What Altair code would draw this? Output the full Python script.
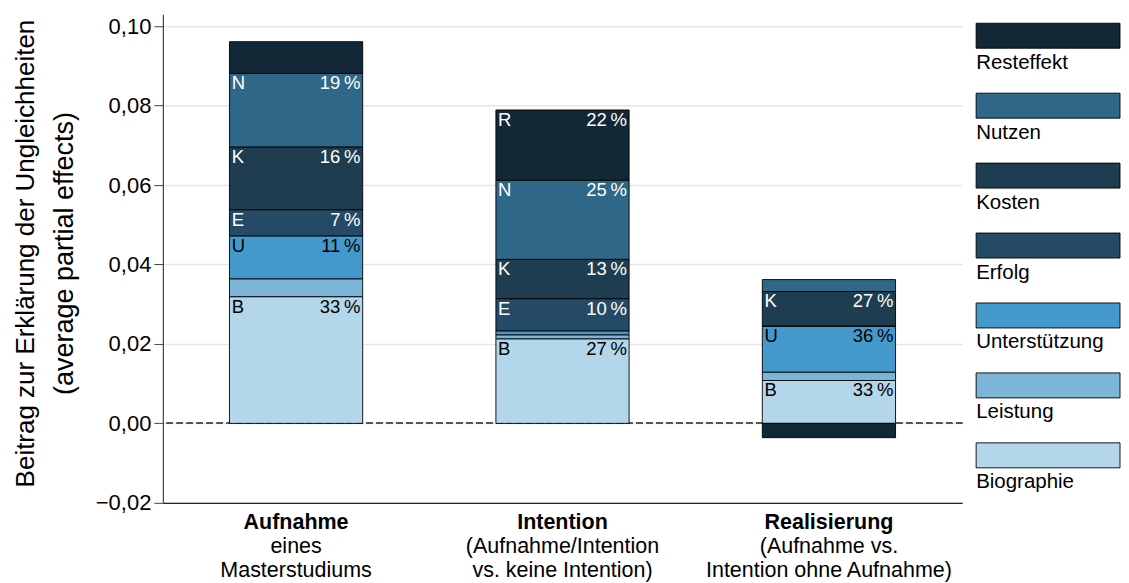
import altair as alt
import pandas as pd

groups = ["Aufnahme", "Intention", "Realisierung"]
group_subtitles = [
    "eines\nMasterstudiums",
    "(Aufnahme/Intention\nvs. keine Intention)",
    "(Aufnahme vs.\nIntention ohne Aufnahme)",
]
factors = ["Biographie", "Leistung", "Unterstützung", "Erfolg", "Kosten", "Nutzen", "Resteffekt"]
letters = ["B", "L", "U", "E", "K", "N", "R"]
colors = ["#b3d6ea", "#7db5d9", "#4499cc", "#244a66", "#1e3d51", "#2e6788", "#132836"]
text_colors = ["black", "black", "black", "white", "white", "white", "white"]

values_aufnahme = [0.0319, 0.0045, 0.0108, 0.0066, 0.0158, 0.0185, 0.0080]
values_intention = [0.0213, 0.0010, 0.0010, 0.0081, 0.0099, 0.0199, 0.0177]
values_realisierung = [0.0108, 0.0021, 0.0116, 0.0000, 0.0087, 0.0030, -0.0036]

pct_aufnahme = ["33", "", "11", "7", "16", "19", ""]
pct_intention = ["27", "", "", "10", "13", "25", "22"]
pct_realisierung = ["33", "", "36", "", "27", "", ""]

y_ticks = [-0.02, 0.0, 0.02, 0.04, 0.06, 0.08, 0.10]
y_title_line1 = "Beitrag zur Erklärung der Ungleichheiten"
y_title_line2 = "(average partial effects)"

rows = []
for g, vals, pcts in zip(groups, [values_aufnahme, values_intention, values_realisierung],
                         [pct_aufnahme, pct_intention, pct_realisierung]):
    for i, f in enumerate(factors):
        rows.append({
            "group": g,
            "factor": f,
            "order": i,
            "value": vals[i],
            "letter": letters[i] if pcts[i] else "",
            "pct": (pcts[i] + "\u2009%") if pcts[i] else "",
            "tcolor": text_colors[i],
        })
df = pd.DataFrame(rows)

FONT = "Liberation Sans"
W, H = 800, 489

x_enc = alt.X(
    "group:N",
    sort=groups,
    scale=alt.Scale(domain=groups, paddingInner=0.5, paddingOuter=0.25),
    axis=alt.Axis(labels=False, ticks=False, title=None, domain=True,
                  domainColor="#222222", domainWidth=1.2, grid=False),
)

base = alt.Chart(df).transform_stack(
    stack="value", as_=["y0", "y1"], groupby=["group"],
    sort=[alt.SortField("order", order="ascending")],
)

y_scale = alt.Scale(domain=[-0.02, 0.103], nice=False, zero=False)

bars = base.mark_bar(stroke="black", strokeWidth=0.9).encode(
    x=x_enc,
    y=alt.Y(
        "y0:Q",
        scale=y_scale,
        axis=alt.Axis(
            values=y_ticks,
            labelExpr="replace(format(datum.value, '.2f'), '.', ',')",
            title=None,
            labelFontSize=22,
            labelColor="black",
            labelPadding=3,
            tickSize=9,
            tickColor="#444444",
            domainColor="#444444",
            domainWidth=1.2,
            grid=True,
            gridColor="#e6e6e6",
            gridWidth=1.5,
        ),
    ),
    y2="y1:Q",
    color=alt.Color("factor:N", scale=alt.Scale(domain=factors, range=colors), legend=None),
)

labelled = base.transform_filter("datum.letter != ''")

letter_text = labelled.mark_text(align="left", baseline="top", dx=-64.5, dy=1, fontSize=18.5).encode(
    x=x_enc, y=alt.Y("y1:Q", scale=y_scale), text="letter:N",
    color=alt.Color("tcolor:N", scale=None),
)
pct_text = labelled.mark_text(align="right", baseline="top", dx=64.5, dy=1, fontSize=18.5).encode(
    x=x_enc, y=alt.Y("y1:Q", scale=y_scale), text="pct:N",
    color=alt.Color("tcolor:N", scale=None),
)

zero_rule = alt.Chart(df).mark_rule(strokeDash=[6, 4], color="#555555", strokeWidth=1.2).encode(
    y=alt.datum(0)
)

lab_df = pd.DataFrame({"group": groups, "sub": group_subtitles})
bold_lab = alt.Chart(lab_df).mark_text(fontWeight="bold", fontSize=21.5, baseline="alphabetic").encode(
    x=x_enc, y=alt.value(H + 26), text="group:N"
)
sub_lab = alt.Chart(lab_df).mark_text(fontSize=21.5, baseline="alphabetic", lineBreak="\n", lineHeight=24).encode(
    x=x_enc, y=alt.value(H + 50), text="sub:N"
)

title_df = pd.DataFrame({"l1": [y_title_line1], "l2": [y_title_line2]})
title1 = alt.Chart(title_df).mark_text(angle=270, fontSize=26, baseline="middle", align="center").encode(
    x=alt.value(-137), y=alt.value(H / 2 - 5), text="l1:N"
)
title2 = alt.Chart(title_df).mark_text(angle=270, fontSize=27, baseline="middle", align="center").encode(
    x=alt.value(-98), y=alt.value(H / 2 - 5), text="l2:N"
)

main = alt.layer(zero_rule, bars, letter_text, pct_text, bold_lab, sub_lab, title1, title2).properties(
    width=W, height=H
)

leg_df = pd.DataFrame({"factor": factors[::-1]})
leg_y = alt.Y(
    "factor:N",
    sort=factors[::-1],
    scale=alt.Scale(domain=factors[::-1], paddingInner=0.643, paddingOuter=0.3145, align=0.2045),
    axis=None,
)
legend_rects = alt.Chart(leg_df).mark_rect(stroke="black", strokeWidth=0.9).encode(
    y=leg_y, x=alt.value(0), x2=alt.value(144),
    color=alt.Color("factor:N", scale=alt.Scale(domain=factors, range=colors), legend=None),
)
legend_text = alt.Chart(leg_df).mark_text(align="left", baseline="alphabetic", dy=33, fontSize=20.5, color="black").encode(
    y=leg_y, x=alt.value(0), text="factor:N"
)
legend = alt.layer(legend_rects, legend_text).properties(width=144, height=H)

chart = alt.hconcat(main, legend, spacing=14, bounds="flush").properties(
    padding={"left": 4, "top": 6, "right": 0, "bottom": 0}
).configure(font=FONT).configure_view(stroke=None)

chart.save("out.html", embed_options={"renderer": "svg", "actions": False})
